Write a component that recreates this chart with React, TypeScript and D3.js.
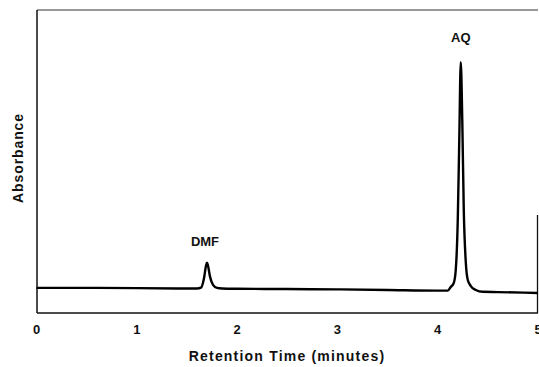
import React from "react";
import * as d3 from "d3";

const times = [0, 0.5, 1.0, 1.5, 1.6, 1.64, 1.67, 1.69, 1.7, 1.71, 1.73, 1.76, 1.8, 1.85, 2.0, 2.5, 3.0, 3.5, 4.0, 4.1, 4.13, 4.16, 4.18, 4.2, 4.215, 4.23, 4.245, 4.26, 4.28, 4.3, 4.33, 4.38, 4.45, 4.6, 5.0];
const absorbance = [8.3, 8.3, 8.2, 8.1, 8.1, 8.4, 11.5, 15.6, 16.6, 15.6, 12.0, 9.3, 8.3, 8.1, 8.0, 7.9, 7.8, 7.6, 7.4, 7.4, 8.6, 9.9, 14.2, 30.7, 57.0, 82.8, 63.7, 34.0, 16.8, 10.9, 8.9, 7.6, 7.0, 6.9, 6.6];
const xTicks = [0, 1, 2, 3, 4, 5];
const peakLabels = [
  { name: "DMF", t: 1.68, v: 22 },
  { name: "AQ", t: 4.23, v: 89.5 },
];

const W = 539;
const H = 367;
const left = 37;
const right = 538;
const top = 10;
const bottom = 313;

export default function App() {
  const x = d3.scaleLinear().domain([0, 5]).range([left - 0.5, right]);
  const y = d3.scaleLinear().domain([0, 100]).range([bottom, top]);
  const line = d3
    .line<number>()
    .x((_, i) => x(times[i]))
    .y((d) => y(d))
    .curve(d3.curveMonotoneX);
  const font = "'Liberation Sans', Arial, sans-serif";
  return (
    <svg
      width={W}
      height={H}
      style={{ position: "absolute", left: 0, top: 0, background: "#fff" }}
    >
      <g fill="none" stroke="#111">
        <line x1={left} y1={top} x2={right} y2={top} strokeWidth={1.2} stroke="#333" />
        <line x1={left} y1={top} x2={left} y2={bottom} strokeWidth={1.5} />
        <line x1={left} y1={bottom} x2={right} y2={bottom} strokeWidth={1.5} />
        <line x1={right - 0.5} y1={215} x2={right - 0.5} y2={bottom} strokeWidth={1.3} />
      </g>
      <path d={line(absorbance) || ""} fill="none" stroke="#000" strokeWidth={2.4} strokeLinejoin="round" />
      {xTicks.map((t) => (
        <text
          key={t}
          x={x(t)}
          y={334}
          textAnchor="middle"
          fontFamily={font}
          fontWeight="bold"
          fontSize={13}
          fill="#111"
        >
          {t}
        </text>
      ))}
      {peakLabels.map((p) => (
        <text
          key={p.name}
          x={x(p.t)}
          y={y(p.v)}
          textAnchor="middle"
          fontFamily={font}
          fontWeight="bold"
          fontSize={13}
          fill="#111"
        >
          {p.name}
        </text>
      ))}
      <text
        x={287}
        y={361}
        textAnchor="middle"
        fontFamily={font}
        fontWeight="bold"
        fontSize={14}
        letterSpacing={1.2}
        fill="#111"
      >
        Retention Time (minutes)
      </text>
      <text
        transform="translate(23,158) rotate(-90)"
        textAnchor="middle"
        fontFamily={font}
        fontWeight="bold"
        fontSize={14}
        letterSpacing={0.9}
        fill="#111"
      >
        Absorbance
      </text>
    </svg>
  );
}
